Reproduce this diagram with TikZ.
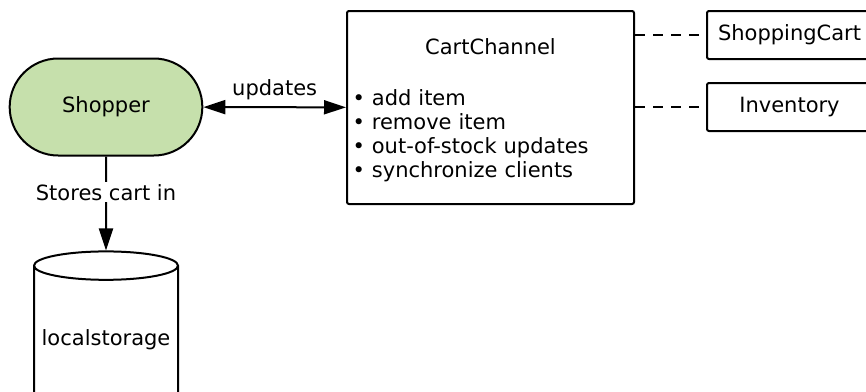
\documentclass[tikz,border=0pt]{standalone}
\usepackage{fontspec}
\setmainfont{DejaVu Sans}
\usepackage{tikz}
\usetikzlibrary{arrows.meta,positioning,shapes.misc,shapes.geometric}
\definecolor{shopgreen}{RGB}{198,224,172}

\begin{document}
\begin{tikzpicture}[
  x=0.5pt,y=-0.5pt,
  font=\fontsize{10.5}{12}\selectfont,
  actor/.style={draw,line width=1pt,rounded rectangle,fill=shopgreen,minimum width=103pt,minimum height=48.5pt},
  channel/.style={draw,line width=1pt,rounded corners=1pt,minimum width=143.5pt,minimum height=96.5pt,text width=138pt,inner xsep=2.5pt,align=left},
  model/.style={draw,line width=1pt,rounded corners=1pt,minimum width=82.5pt,minimum height=24pt},
  store/.style={draw,line width=1pt,cylinder,shape border rotate=90,aspect=0.2,minimum width=72pt,minimum height=78pt},
  rel/.style={draw,line width=1pt,-{Triangle[length=11pt,width=7pt]}},
  duplex/.style={rel,{Triangle[length=11pt,width=7pt]}-{Triangle[length=11pt,width=7pt]}},
  link/.style={draw,line width=1pt,dash pattern=on 5pt off 4pt}
]
\useasboundingbox (0,0) rectangle (866,391);
\clip (0,0) rectangle (866,391);
\node[actor] (shopper) at (106,107) {Shopper};
\node[channel] (channel) at (490.5,107.5) {\rule{0pt}{11pt}\makebox[138pt]{CartChannel}\\[13.5pt]
  • add item\\ • remove item\\ • out-of-stock updates\\ • synchronize clients};
\node[model] (cartmodel) at (789.5,35) {ShoppingCart};
\node[model] (inventory) at (789.5,107) {Inventory};
\node[store] (storage) at (106,340) {localstorage};
\draw[duplex] (shopper) -- node[above]{updates} (channel);
\draw[rel] (shopper) -- node[pos=0.38,fill=white,inner sep=1pt]{Stores cart in} (storage.top);
\draw[link] (channel.east |- cartmodel.west) -- (cartmodel.west);
\draw[link] (channel.east |- inventory.west) -- (inventory.west);
\end{tikzpicture}
\end{document}
